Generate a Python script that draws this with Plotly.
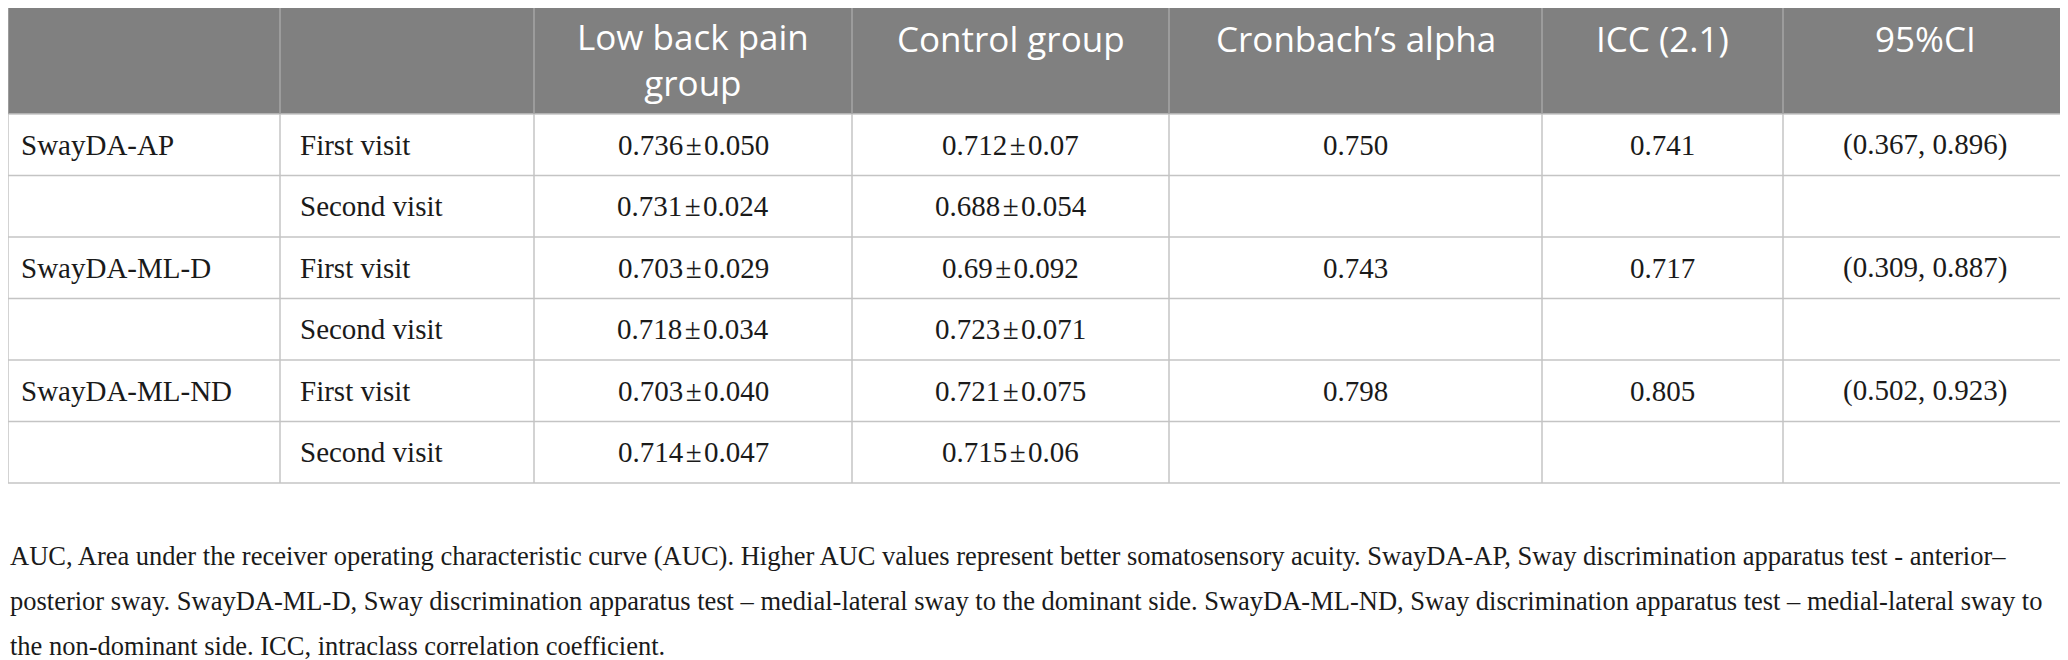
import plotly.graph_objects as go

# ---- data ----
header_labels = ["", "", "Low back pain<br>group", "Control group", "Cronbach’s alpha", "ICC (2.1)", "95%CI"]
measures = ["SwayDA-AP", "", "SwayDA-ML-D", "", "SwayDA-ML-ND", ""]
visits = ["First visit", "Second visit", "First visit", "Second visit", "First visit", "Second visit"]
lbp_mean = ["0.736", "0.731", "0.703", "0.718", "0.703", "0.714"]
lbp_sd = ["0.050", "0.024", "0.029", "0.034", "0.040", "0.047"]
ctrl_mean = ["0.712", "0.688", "0.69", "0.723", "0.721", "0.715"]
ctrl_sd = ["0.07", "0.054", "0.092", "0.071", "0.075", "0.06"]
cronbach = ["0.750", "", "0.743", "", "0.798", ""]
icc = ["0.741", "", "0.717", "", "0.805", ""]
ci95 = ["(0.367, 0.896)", "", "(0.309, 0.887)", "", "(0.502, 0.923)", ""]
caption_lines = [
    "AUC, Area under the receiver operating characteristic curve (AUC). Higher AUC values represent better somatosensory acuity. SwayDA-AP, Sway discrimination apparatus test - anterior–",
    "posterior sway. SwayDA-ML-D, Sway discrimination apparatus test – medial-lateral sway to the dominant side. SwayDA-ML-ND, Sway discrimination apparatus test – medial-lateral sway to",
    "the non-dominant side. ICC, intraclass correlation coefficient.",
]

# ---- layout constants ----
W, H = 2068, 660
OFF = 8  # page body margin
col_edges = [OFF, 280, 534, 852, 1169, 1542, 1783, 2067]
table_top = OFF
header_bottom = 114
row_h = 61.5
n_rows = len(visits)
table_bottom = header_bottom + row_h * n_rows

HEADER_FILL = "#808080"
GRID = "#c4c4c4"
SANS = "'Open Sans', Lato, sans-serif"
SERIF = "'Liberation Serif', 'DejaVu Serif', serif"
TXT = "#1a1a1a"

fig = go.Figure()
shapes = []
annotations = []

# header background
shapes.append(dict(type="rect", x0=OFF, x1=W, y0=table_top, y1=header_bottom,
                   fillcolor=HEADER_FILL, line=dict(width=0), layer="below"))

# horizontal lines
hlines = [header_bottom] + [header_bottom + row_h * (k + 1) for k in range(n_rows)]
for yv in hlines:
    shapes.append(dict(type="line", x0=OFF, x1=W, y0=yv, y1=yv,
                       line=dict(color=GRID, width=1.5)))

# vertical lines
for xv in col_edges:
    shapes.append(dict(type="line", x0=xv, x1=xv, y0=table_top, y1=header_bottom,
                       line=dict(color="#a6a6a6", width=1.5)))
    shapes.append(dict(type="line", x0=xv, x1=xv, y0=header_bottom, y1=table_bottom,
                       line=dict(color=GRID, width=1.5)))

# header text
for c, lab in enumerate(header_labels):
    if not lab:
        continue
    cx = (col_edges[c] + col_edges[c + 1]) / 2
    n_lines = lab.count("<br>") + 1
    annotations.append(dict(x=cx, y=38 + 21 * (n_lines - 1), text=lab, showarrow=False,
                            xanchor="center", yanchor="middle", align="center",
                            font=dict(family=SANS, size=35, color="white")))

# body text
def body(x, y, text, anchor):
    annotations.append(dict(x=x, y=y, text=text, showarrow=False,
                            xanchor=anchor, yanchor="middle",
                            font=dict(family=SERIF, size=29, color=TXT)))

for r in range(n_rows):
    cy = header_bottom + row_h * (r + 0.5)
    cols = [measures[r], visits[r],
            f"{lbp_mean[r]}\u200a±\u200a{lbp_sd[r]}",
            f"{ctrl_mean[r]}\u200a±\u200a{ctrl_sd[r]}",
            cronbach[r], icc[r], ci95[r]]
    for c, t in enumerate(cols):
        if not t:
            continue
        if c == 0:
            body(19, cy, t, "left")
        elif c == 1:
            body(col_edges[c] + 18, cy, t, "left")
        else:
            body((col_edges[c] + col_edges[c + 1]) / 2, cy, t, "center")

# caption
for i, line in enumerate(caption_lines):
    annotations.append(dict(x=OFF, y=556 + 45 * i, text=line, showarrow=False,
                            xanchor="left", yanchor="middle",
                            font=dict(family=SERIF, size=26.5, color=TXT)))

fig.update_layout(
    width=W - OFF, height=H - OFF,
    margin=dict(l=0, r=0, t=0, b=0),
    paper_bgcolor="white", plot_bgcolor="white",
    xaxis=dict(range=[OFF, W], visible=False, fixedrange=True),
    yaxis=dict(range=[H, OFF], visible=False, fixedrange=True),
    shapes=shapes, annotations=annotations, showlegend=False,
)

fig.write_html("out.html", config={"displayModeBar": False})
